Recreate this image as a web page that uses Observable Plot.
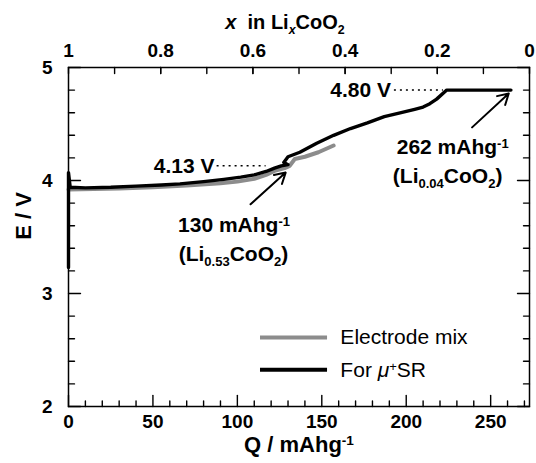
<!DOCTYPE html>
<html><head><meta charset="utf-8">
<script src="https://cdn.jsdelivr.net/npm/d3@7"></script>
<script src="https://cdn.jsdelivr.net/npm/@observablehq/plot@0.6"></script>
<style>body{margin:0;background:#fff}</style>
</head><body><div id="chart"></div>
<script>
// ---- data ----
const qSR = [0, 0, 1, 10, 25, 40, 55, 66, 80, 92, 102, 110, 117, 122, 126, 130, 127.5, 130, 137, 147, 157, 167, 177, 187, 197, 205, 210, 214, 218, 224, 240, 262];
const eSR = [3.23, 4.07, 3.94, 3.935, 3.94, 3.95, 3.96, 3.97, 3.99, 4.01, 4.03, 4.05, 4.08, 4.11, 4.13, 4.14, 4.16, 4.21, 4.25, 4.33, 4.40, 4.46, 4.51, 4.565, 4.60, 4.63, 4.65, 4.68, 4.72, 4.80, 4.80, 4.80];
const qMix = [0, 15, 30, 50, 70, 90, 100, 110, 117, 122, 128, 131, 134, 140, 148, 157];
const eMix = [3.92, 3.925, 3.93, 3.94, 3.955, 3.975, 3.99, 4.015, 4.05, 4.085, 4.11, 4.13, 4.19, 4.21, 4.25, 4.31];
const seriesNames = ["Electrode mix", "For *μ*^{+}SR"];
const seriesColors = ["#8c8c8c", "#000000"];

const qTicks = [0, 50, 100, 150, 200, 250];
const eTicks = [2, 3, 4, 5];
const xTicks = [1, 0.8, 0.6, 0.4, 0.2, 0];
const xMinor = [0.9, 0.8, 0.7, 0.6, 0.5, 0.4, 0.3, 0.2, 0.1];
const qMinor = [10,20,30,40,60,70,80,90,110,120,130,140,160,170,180,190,210,220,230,240,260,270];
const eMinor = [2.2,2.4,2.6,2.8,3.2,3.4,3.6,3.8,4.2,4.4,4.6,4.8];
const qMax = 273; // Q where x in LixCoO2 = 0 (262 / 0.96)

// annotations
const levelLabels = [{q: 86.5, e: 4.13, text: "4.13 V", q1: 88, q2: 117},
                     {q: 191, e: 4.80, text: "4.80 V", q1: 193, q2: 222}];
const capLabels = [{q: 98, e: 3.60, text: "130 mAhg^{-1}"}, {q: 97.7, e: 3.35, text: "(Li_{0.53}CoO_{2})"},
                   {q: 227.5, e: 4.29, text: "262 mAhg^{-1}"}, {q: 224.5, e: 4.04, text: "(Li_{0.04}CoO_{2})"}];
const arrows = [{q1: 107.8, e1: 3.79, q2: 128.6, e2: 4.07}, {q1: 239, e1: 4.47, q2: 260.7, e2: 4.77}];
const legendRows = [{q1: 113.7, q2: 153.4, qt: 161, e: 2.61}, {q1: 113.7, q2: 153.4, qt: 161, e: 2.325}];

const sr = qSR.map((q, i) => ({q, e: eSR[i]}));
const mix = qMix.map((q, i) => ({q, e: eMix[i]}));
const legend = legendRows.map((r, i) => ({...r, name: seriesNames[i], color: seriesColors[i]}));

const tickShape = {draw(ctx, l) { ctx.moveTo(0, 0); ctx.lineTo(0, -l); }};
const tk = (data, opts) => Plot.vector(data, {shape: tickShape, anchor: "start", stroke: "black", strokeWidth: 1.4, ...opts});
const qOfX = x => (1 - x) * qMax;

const chart = Plot.plot({
  width: 536, height: 463,
  marginLeft: 68, marginRight: 7, marginTop: 67, marginBottom: 57,
  x: {domain: [0, qMax]},
  y: {domain: [2, 5]},
  style: {fontFamily: "'Liberation Sans', Arial, sans-serif", fontSize: "19px", fontWeight: "bold", color: "#000", background: "#fff"},
  marks: [
    // ticks (inward)
    tk(qTicks, {x: d => d, y: 2, length: 11, rotate: 0}),
    tk(qMinor, {x: d => d, y: 2, length: 5.5, rotate: 0}),
    tk(xTicks.concat(xMinor), {x: d => qOfX(d), y: 5, length: 6, rotate: 180}),
    tk(eTicks, {x: 0, y: d => d, length: 12, rotate: 90}),
    tk(eMinor, {x: 0, y: d => d, length: 6, rotate: 90}),
    tk(eTicks, {x: qMax, y: d => d, length: 12, rotate: -90}),
    tk(eMinor, {x: qMax, y: d => d, length: 6, rotate: -90}),
    Plot.axisX({anchor: "bottom", ticks: qTicks, tickSize: 0, tickPadding: 8, label: null, tickFormat: d => String(d)}),
    Plot.axisY({anchor: "left", ticks: eTicks, tickSize: 0, tickPadding: 16, label: null, tickFormat: d => String(d)}),
    Plot.axisX({anchor: "top", ticks: xTicks.map(qOfX), tickSize: 0, tickPadding: 11, label: null,
                tickFormat: q => String(+(1 - q / qMax).toFixed(1))}),
    // titles
    Plot.text(["Q / mAhg^{-1}"], {frameAnchor: "bottom", dx: 0, dy: 45, lineAnchor: "bottom", fontSize: 22, letterSpacing: "0.6px"}),
    Plot.text(["E / V"], {frameAnchor: "left", textAnchor: "middle", dx: -38, dy: -21, rotate: -90, lineAnchor: "bottom", fontSize: 22, letterSpacing: "2.5px"}),
    Plot.text(["*x*  in Li_{*x*}CoO_{2}"], {frameAnchor: "top", dx: -14, dy: -39, lineAnchor: "bottom", fontSize: 20}),
    // curves
    Plot.line(mix, {x: "q", y: "e", stroke: seriesColors[0], strokeWidth: 4, strokeLinejoin: "round"}),
    Plot.line(sr, {x: "q", y: "e", stroke: seriesColors[1], strokeWidth: 3.4, strokeLinejoin: "round"}),
    // annotations
    Plot.ruleY(levelLabels, {y: "e", x1: "q1", x2: "q2", strokeDasharray: "2,4", strokeWidth: 1.5}),
    Plot.text(levelLabels, {x: "q", y: "e", text: "text", textAnchor: "end", fontSize: 21}),
    Plot.text(capLabels, {x: "q", y: "e", text: "text", fontSize: 21}),
    Plot.arrow(arrows, {x1: "q1", y1: "e1", x2: "q2", y2: "e2", strokeWidth: 2, headLength: 9}),
    // legend
    Plot.ruleY(legend, {y: "e", x1: "q1", x2: "q2", stroke: "color", strokeWidth: 4}),
    Plot.text(legend, {x: "qt", y: "e", text: "name", textAnchor: "start", fontWeight: "normal", fontSize: 21}),
    Plot.frame({stroke: "black", strokeWidth: 1.5})
  ]
});

// rich text: ^{..} superscript, _{..} subscript, *..* italic
function rich(el) {
  const s = el.textContent;
  if (!/\^\{|_\{|\*/.test(s) || el.querySelector("tspan")) return;
  const sel = d3.select(el); sel.text(null);
  s.split(/(\^\{[^}]*\}|_\{[^}]*\}|\*[^*]*\*)/).filter(p => p).forEach(p => {
    let c = p, shift = null, it = false;
    if (p.startsWith("^{")) { c = p.slice(2, -1); shift = "super"; }
    else if (p.startsWith("_{")) { c = p.slice(2, -1); shift = "sub"; }
    if (/^\*.*\*$/.test(c)) { c = c.slice(1, -1); it = true; }
    const t = sel.append("tspan").text(c).style("white-space", "pre");
    if (shift) t.attr("baseline-shift", shift === "sub" ? "-40%" : "50%").attr("font-size", "62%");
    if (it) t.attr("font-style", "italic");
  });
  sel.style("white-space", "pre");
}
chart.querySelectorAll("text").forEach(rich);
document.getElementById("chart").appendChild(chart);
</script>
</body></html>
